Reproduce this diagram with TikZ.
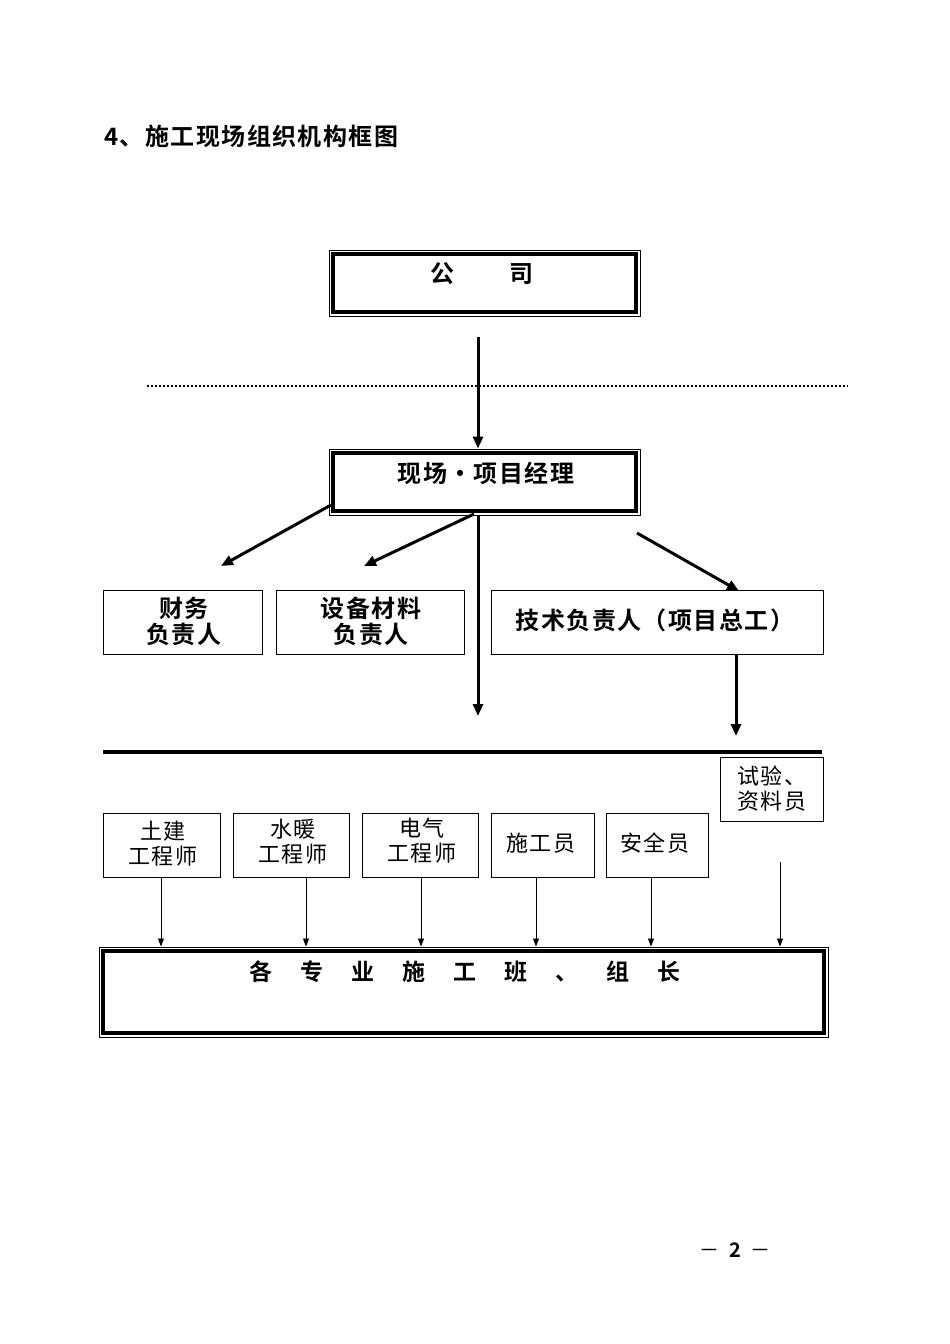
\documentclass[tikz,border=0pt]{standalone}
\usepackage{fontspec}
\setmainfont{Noto Sans CJK SC}[BoldFont={* Bold}]
\usetikzlibrary{arrows.meta,calc}
\begin{document}
\begin{tikzpicture}[x=1pt,y=-1pt,
  frame/.style={draw,line width=1pt,inner sep=0pt},
  inframe/.style={line width=4.5pt},
  plainbox/.style={draw,line width=1pt,inner sep=0pt,align=center},
  boldtxt/.style={font=\fontsize{24}{26}\selectfont\bfseries\addfontfeature{LetterSpace=6},inner sep=0pt,align=center},
  regtxt/.style={font=\fontsize{22}{25}\selectfont\addfontfeature{LetterSpace=5},align=center},
  bigarrow/.style={line width=3pt,-{Triangle[length=12pt,width=10pt]}},
  smallarrow/.style={line width=0.9pt,-{Triangle[length=8pt,width=6pt]}}]
\useasboundingbox (0,0) rectangle (950,1344);
% title
\node[boldtxt,anchor=west] (title) at (104,136) {4、施工现场组织机构框图};
% company
\node[frame,minimum width=311pt,minimum height=66pt] (co) at (484.5,283) {};
\draw[inframe] ($(co.north west)+(4.5,4.5)$) rectangle ($(co.south east)+(-4.5,-4.5)$);
\node[boldtxt] (cotxt) at (482,274) {公\hspace{56pt}司};
% dotted line
\coordinate (dl) at (147,386);
\coordinate (dr) at (848,386);
\draw[line width=2pt,dash pattern=on 2pt off 2pt] (dl) -- (dr);
% manager
\node[frame,minimum width=311pt,minimum height=66pt] (pm) at (484.5,482) {};
\draw[inframe] ($(pm.north west)+(4.5,4.5)$) rectangle ($(pm.south east)+(-4.5,-4.5)$);
\node[boldtxt] (pmtxt) at (486,473) {现场·项目经理};
\coordinate (cos) at (478,337);
\draw[bigarrow] (cos) -- (cos |- pm.north);
% level 2
\node[plainbox,minimum width=159pt,minimum height=64pt] (fin) at (182.5,622) {};
\node[boldtxt] (fintxt) at (184,621) {财务\\负责人};
\node[plainbox,minimum width=188pt,minimum height=64pt] (eq) at (370,622) {};
\node[boldtxt] (eqtxt) at (371,621) {设备材料\\负责人};
\node[plainbox,minimum width=332pt,minimum height=64pt] (tech) at (657,622) {};
\node[boldtxt] (techtxt) at (655,620) {技术负责人（项目总工）};
\coordinate (a1s) at (331,505);
\coordinate (a1e) at (221,566);
\coordinate (a2s) at (474,514);
\coordinate (a2e) at (364,566);
\coordinate (a3s) at (637,533);
\coordinate (a3e) at (739,591);
\coordinate (a4e) at (478,716);
\coordinate (a5e) at (736,736);
\draw[bigarrow] (a1s) -- (a1e);
\draw[bigarrow] (a2s) -- (a2e);
\draw[bigarrow] (a3s) -- (a3e);
\draw[bigarrow] (a4e |- pm.south) -- (a4e);
\draw[bigarrow] (a5e |- tech.south) -- (a5e);
% thick line
\coordinate (tl) at (103,752);
\coordinate (tr) at (822,752);
\draw[line width=4.5pt] (tl) -- (tr);
% level 3
\node[plainbox,minimum width=103pt,minimum height=64pt] (test) at (772,789) {};
\node[regtxt] (testtxt) at (772,789) {试验、\\资料员};
\node[plainbox,minimum width=117pt,minimum height=64pt] (tj) at (161.5,845) {};
\node[regtxt] (tjtxt) at (163,844) {土建\\工程师};
\node[plainbox,minimum width=116pt,minimum height=64pt] (sn) at (291.5,845) {};
\node[regtxt] (sntxt) at (293,842) {水暖\\工程师};
\node[plainbox,minimum width=116pt,minimum height=64pt] (dq) at (420.5,845) {};
\node[regtxt] (dqtxt) at (422,841) {电气\\工程师};
\node[plainbox,minimum width=103pt,minimum height=64pt] (sg) at (542.5,845) {};
\node[regtxt] (sgtxt) at (541,843) {施工员};
\node[plainbox,minimum width=102pt,minimum height=64pt] (aq) at (657,845) {};
\node[regtxt] (aqtxt) at (655,843) {安全员};
% bottom
\node[frame,minimum width=729pt,minimum height=90pt] (bt) at (463.5,992) {};
\draw[inframe] ($(bt.north west)+(4.5,4.5)$) rectangle ($(bt.south east)+(-4.5,-4.5)$);
\node[font=\fontsize{23}{26}\selectfont\bfseries,inner sep=0pt] (bttxt) at (465,972) {各\hspace{28pt}专\hspace{28pt}业\hspace{28pt}施\hspace{28pt}工\hspace{28pt}班\hspace{28pt}、\hspace{28pt}组\hspace{28pt}长};
\coordinate (b1) at (161,877);
\coordinate (b2) at (306,877);
\coordinate (b3) at (421,877);
\coordinate (b4) at (536,877);
\coordinate (b5) at (651,877);
\coordinate (b6) at (780,862);
\draw[smallarrow] (b1) -- (b1 |- bt.north);
\draw[smallarrow] (b2) -- (b2 |- bt.north);
\draw[smallarrow] (b3) -- (b3 |- bt.north);
\draw[smallarrow] (b4) -- (b4 |- bt.north);
\draw[smallarrow] (b5) -- (b5 |- bt.north);
\draw[smallarrow] (b6) -- (b6 |- bt.north);
% page number
\node[font=\fontsize{20}{24}\selectfont] (pg) at (735,1250) {－\hspace{10pt}\textbf{2}\hspace{10pt}－};
\end{tikzpicture}
\end{document}
